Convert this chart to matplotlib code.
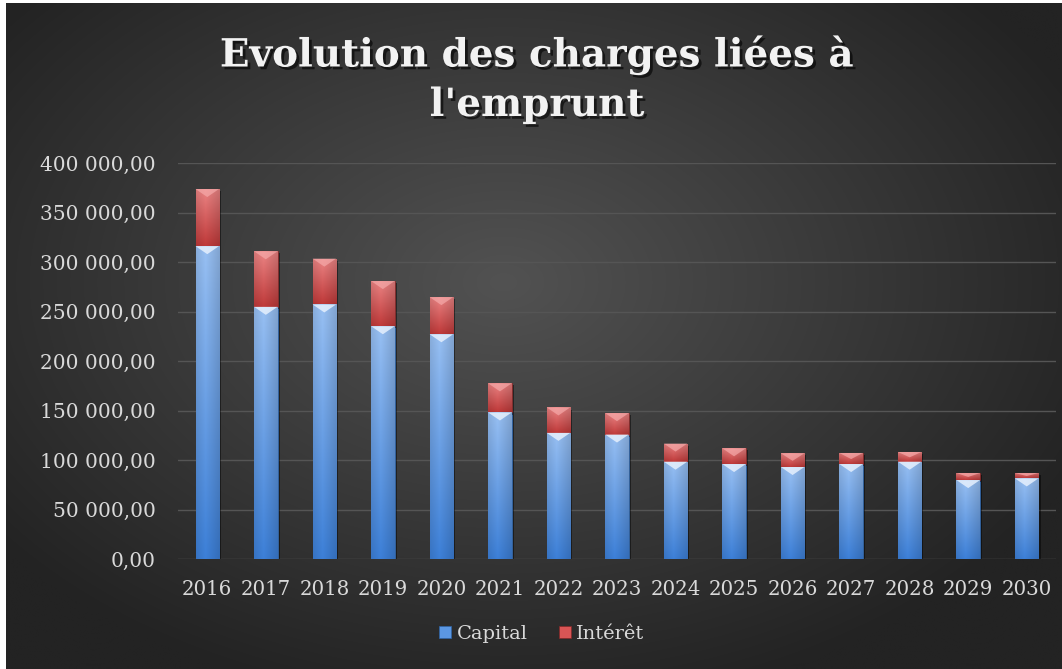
import numpy as np
import matplotlib.pyplot as plt
import matplotlib.patheffects as pe
from matplotlib.colors import to_rgb
from matplotlib.patches import Polygon, Rectangle

# values
years = [str(y) for y in range(2016, 2031)]
capital = [316000, 254700, 257100, 235100, 227000, 148000, 127400, 125700,
           98300, 95900, 92900, 95900, 98300, 79700, 81400]
interet = [57700, 56100, 46300, 45600, 37500, 29400, 25700, 21600,
           18300, 15900, 13900, 11200, 9800, 7100, 5400]
yticks = np.arange(0, 400001, 50000)

W, H = 1062, 669
fig = plt.figure(figsize=(W / 100, H / 100), dpi=100)
fig.patch.set_facecolor('white')

# dark radial background
bg = fig.add_axes([6 / W, 0, 1 - 6 / W, 1 - 3 / H])
bg.set_axis_off()
yy, xx = np.mgrid[0:H, 0:W]
r = np.sqrt(((xx - 500) / 640) ** 2 + ((yy - 280) / 430) ** 2)
r = np.clip(r, 0, 1)[..., None]
light = np.array(to_rgb('#525252'))
dark = np.array(to_rgb('#232323'))
bg.imshow(light * (1 - r) + dark * r, aspect='auto', extent=[0, 1, 0, 1])
bg.set_xlim(0, 1)
bg.set_ylim(0, 1)

ax = fig.add_axes([178 / W, 1 - 559 / H, (1056 - 178) / W, (559 - 163) / H])
ax.set_facecolor('none')
x = np.arange(len(years))
bw = 0.4

shadow = [pe.withSimplePatchShadow(offset=(1.5, -1.5), shadow_rgbFace='black', alpha=0.45)]
b1 = ax.bar(x, capital, bw, color='#5b97e3', edgecolor='#2f64a6', lw=0.5,
            label='Capital', path_effects=shadow, zorder=2)
b2 = ax.bar(x, interet, bw, bottom=capital, color='#d95555', edgecolor='#822828',
            lw=0.5, label='Intérêt', path_effects=shadow, zorder=2)


def shade(patch, top, bottom):
    x0, y0 = patch.get_x(), patch.get_y()
    x1, y1 = x0 + patch.get_width(), y0 + patch.get_height()
    t = np.linspace(0, 1, 60)[:, None, None]
    u = np.linspace(-1, 1, 24)[None, :, None]
    col = np.array(to_rgb(bottom)) * (1 - t) + np.array(to_rgb(top)) * t
    col = col * (0.88 + 0.12 * (1 - np.abs(u + 0.2)))
    im = ax.imshow(np.clip(col, 0, 1), extent=[x0, x1, y0, y1], origin='lower',
                   aspect='auto', zorder=2.1)
    im.set_clip_path(patch)


px = 400000 / 396.0  # data units per pixel
for p in b1:
    shade(p, '#98c0f3', '#3d80d8')
    x0, w, top = p.get_x(), p.get_width(), p.get_y() + p.get_height()
    ax.add_patch(Polygon([[x0, top], [x0 + w, top], [x0 + w / 2, top - 8 * px]],
                         closed=True, color='#e6f0fd', alpha=0.85, lw=0, zorder=2.2))
for p in b2:
    shade(p, '#ec8585', '#c03a3a')
    x0, w, top = p.get_x(), p.get_width(), p.get_y() + p.get_height()
    d = min(8 * px, 0.55 * p.get_height())
    ax.add_patch(Polygon([[x0, top], [x0 + w, top], [x0 + w / 2, top - d]],
                         closed=True, color='#f5aaaa', alpha=0.7, lw=0, zorder=2.2))

ax.set_xlim(-0.5, len(years) - 0.5)
ax.set_ylim(0, 400000)
ax.set_yticks(yticks)
ax.set_yticklabels([f"{v:,.2f}".replace(",", " ").replace(".", ",") for v in yticks])
ax.set_xticks(x)
ax.set_xticklabels(years)
ax.yaxis.grid(True, color='#555555', lw=1)
ax.set_axisbelow(True)
for s in ax.spines.values():
    s.set_visible(False)
ax.tick_params(axis='y', length=0, pad=16, labelsize=14.5, labelcolor='#d9d9d9')
ax.tick_params(axis='x', length=0, pad=15, labelsize=14.2, labelcolor='#d9d9d9')
for lab in ax.get_xticklabels() + ax.get_yticklabels():
    lab.set_family('DejaVu Serif')

title_fx = [pe.withSimplePatchShadow(offset=(2, -2), shadow_rgbFace='black', alpha=0.6)]
for txt, yp in [("Evolution des charges liées à", 55), ("l'emprunt", 105)]:
    fig.text(537 / W, 1 - yp / H, txt, ha='center', va='center', fontsize=28,
             fontweight='bold', family='DejaVu Serif', color='#f2f2f2',
             path_effects=title_fx)

handles = [Rectangle((0, 0), 1, 1, fc='#5b97e3', ec='#2f64a6', lw=0.5),
           Rectangle((0, 0), 1, 1, fc='#d95555', ec='#822828', lw=0.5)]
fig.legend(handles, ['Capital', 'Intérêt'], loc='center',
           bbox_to_anchor=(542 / W, 1 - 634 / H), ncol=2, frameon=False,
           handlelength=0.6, handleheight=0.6, handletextpad=0.3, columnspacing=1.6,
           prop={'family': 'DejaVu Serif', 'size': 14}, labelcolor='#d9d9d9')

fig.savefig('out.png', dpi=100)
